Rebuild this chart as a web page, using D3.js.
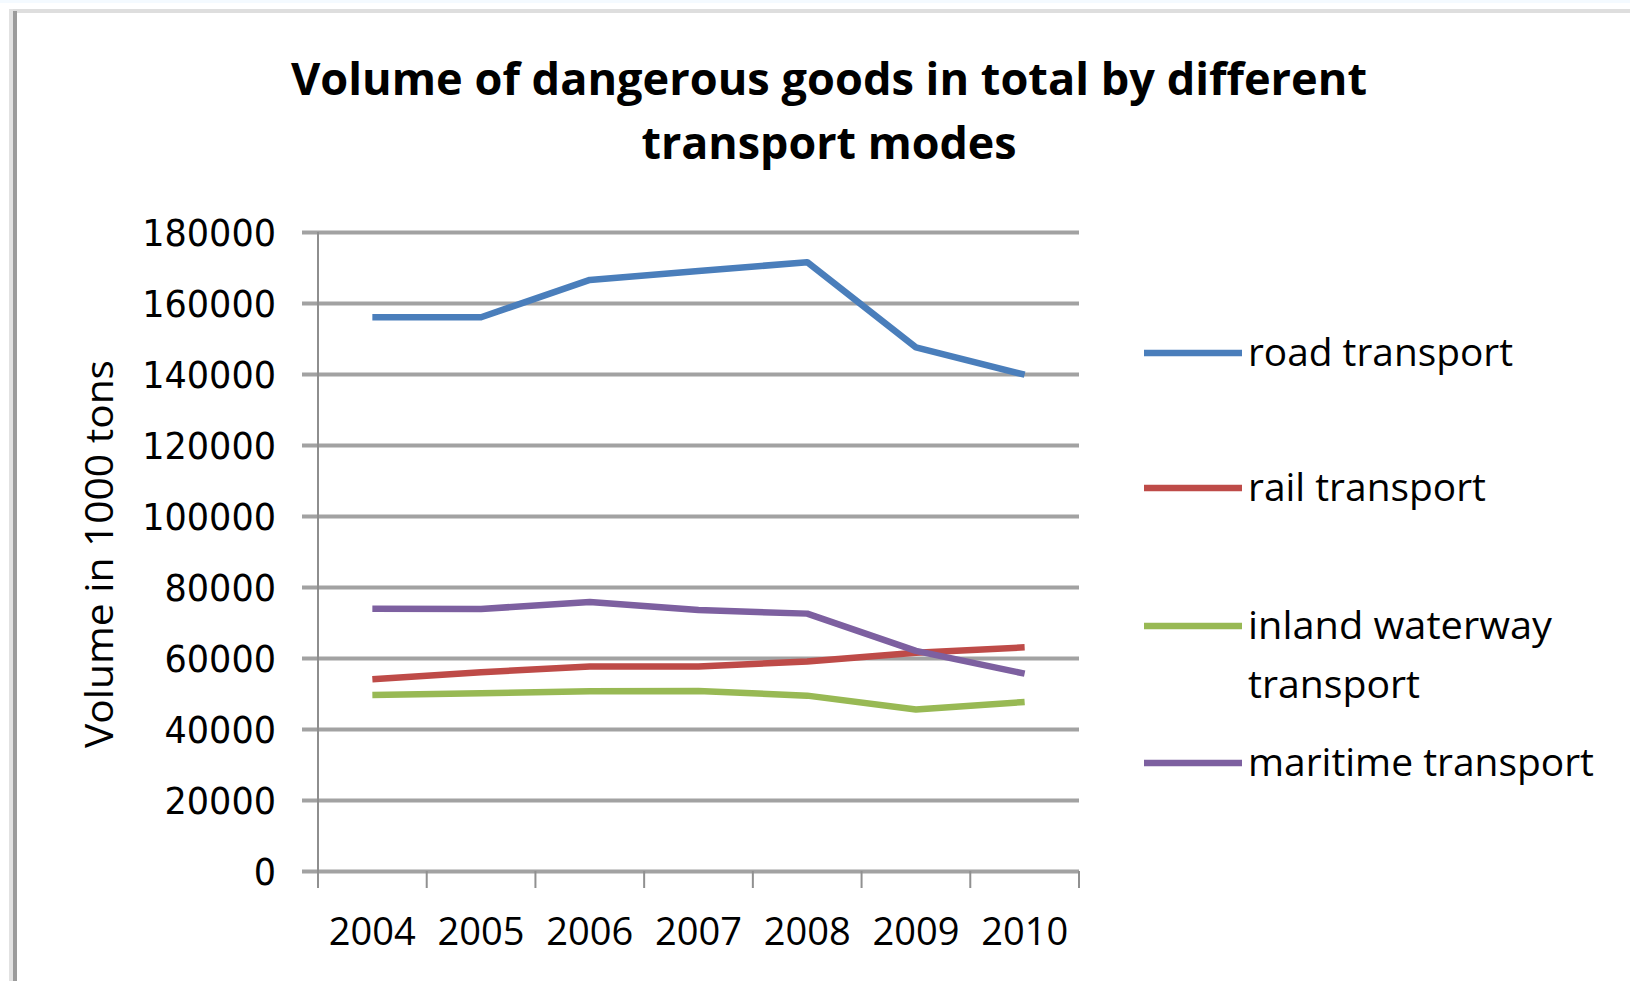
<!DOCTYPE html>
<html>
<head>
<meta charset="utf-8">
<script src="https://cdn.jsdelivr.net/npm/d3@7"></script>
<style>
  html, body { margin: 0; padding: 0; background: #ffffff; }
  svg { display: block; }
</style>
</head>
<body>
<svg id="chart" width="1630" height="981"></svg>
<script>
// Volume of dangerous goods (1000 tons) by transport mode
const years = ["2004", "2005", "2006", "2007", "2008", "2009", "2010"];
const roadTransport = [156000, 156000, 166500, 169000, 171500, 147500, 139800];
const railTransport = [54000, 56000, 57600, 57600, 59000, 61500, 63000];
const inlandWaterwayTransport = [49600, 50100, 50600, 50700, 49400, 45500, 47600];
const maritimeTransport = [73900, 73800, 75800, 73500, 72500, 62000, 55600];
const yTickValues = [0, 20000, 40000, 60000, 80000, 100000, 120000, 140000, 160000, 180000];
const seriesNames = ["road transport", "rail transport", "inland waterway transport", "maritime transport"];
const seriesColors = ["#4a7ebb", "#be4b48", "#98b954", "#7d60a0"];

const series = [roadTransport, railTransport, inlandWaterwayTransport, maritimeTransport]
  .map((values, i) => ({ name: seriesNames[i], color: seriesColors[i], values }));

const svg = d3.select("#chart");

// outer frame
svg.append("rect").attr("x", 0).attr("y", 0).attr("width", 1630).attr("height", 3).attr("fill", "#f4faff");
svg.append("rect").attr("x", 9).attr("y", 9).attr("width", 1621).attr("height", 4).attr("fill", "#dedede");
svg.append("rect").attr("x", 9).attr("y", 9).attr("width", 4).attr("height", 972).attr("fill", "#e2e2e2");
svg.append("rect").attr("x", 13).attr("y", 11).attr("width", 4).attr("height", 970).attr("fill", "#9b9b9b");

const plotLeft = 318, plotRight = 1079, plotTop = 232, plotBottom = 871;

const x = d3.scaleBand().domain(years).range([plotLeft, plotRight]).padding(0);
const y = d3.scaleLinear().domain([0, 180000]).range([plotBottom, plotTop]);

// title
const title = svg.append("g")
  .attr("font-family", "'Open Sans', sans-serif")
  .attr("font-weight", "bold")
  .attr("font-size", 45)
  .attr("fill", "#000")
  .attr("text-anchor", "middle");
title.append("text").attr("x", 829).attr("y", 95)
  .attr("textLength", 1076).attr("lengthAdjust", "spacingAndGlyphs")
  .text("Volume of dangerous goods in total by different");
title.append("text").attr("x", 829).attr("y", 159)
  .attr("textLength", 375).attr("lengthAdjust", "spacingAndGlyphs")
  .text("transport modes");

// horizontal gridlines with value labels
const yAxis = d3.axisLeft(y)
  .tickValues(yTickValues)
  .tickFormat(d3.format("d"))
  .tickSize(plotRight - 302)
  .tickPadding(26);

const yAxisG = svg.append("g")
  .attr("transform", `translate(${plotRight},0)`)
  .call(yAxis);
yAxisG.select(".domain").remove();
yAxisG.selectAll(".tick line").attr("stroke", "#a2a2a2").attr("stroke-width", 4);
yAxisG.selectAll(".tick text")
  .attr("font-family", "'DejaVu Sans', sans-serif")
  .attr("font-size", 37)
  .attr("fill", "#000")
  .attr("dy", "0.36em")
  .each(function () {
    const n = this.textContent.length;
    d3.select(this).attr("textLength", n * 22.3).attr("lengthAdjust", "spacingAndGlyphs");
  });

// vertical axis line
svg.append("line")
  .attr("x1", plotLeft).attr("x2", plotLeft)
  .attr("y1", plotTop).attr("y2", plotBottom + 17)
  .attr("stroke", "#8e8e8e").attr("stroke-width", 2);

// category axis: labels at band centres, tick marks at band edges
const xAxis = d3.axisBottom(x).tickSize(0).tickPadding(0);
const xAxisG = svg.append("g")
  .attr("transform", `translate(0,${plotBottom})`)
  .call(xAxis);
xAxisG.select(".domain").remove();
xAxisG.selectAll(".tick text")
  .attr("font-family", "'Open Sans', sans-serif")
  .attr("font-size", 38)
  .attr("fill", "#000")
  .attr("y", 74)
  .attr("dy", 0)
  .attr("textLength", 87)
  .attr("lengthAdjust", "spacingAndGlyphs");

const edges = years.map(d => x(d)).concat([x(years[years.length - 1]) + x.bandwidth()]);
svg.append("g").selectAll("line")
  .data(edges)
  .join("line")
  .attr("x1", d => d).attr("x2", d => d)
  .attr("y1", plotBottom).attr("y2", plotBottom + 17)
  .attr("stroke", "#909090").attr("stroke-width", 2);

// vertical axis title
svg.append("text")
  .attr("transform", "translate(113,554) rotate(-90)")
  .attr("text-anchor", "middle")
  .attr("font-family", "'Open Sans', sans-serif")
  .attr("font-size", 38)
  .attr("fill", "#000")
  .attr("textLength", 388)
  .attr("lengthAdjust", "spacingAndGlyphs")
  .text("Volume in 1000 tons");

// series lines
const line = d3.line()
  .x((d, i) => x(years[i]) + x.bandwidth() / 2)
  .y(d => y(d));

svg.append("g").selectAll("path")
  .data(series)
  .join("path")
  .attr("d", d => line(d.values))
  .attr("fill", "none")
  .attr("stroke", d => d.color)
  .attr("stroke-width", 6.5)
  .attr("stroke-linejoin", "round");

// legend
const legendRows = [
  { lines: ["road transport"], widths: [265] },
  { lines: ["rail transport"], widths: [238] },
  { lines: ["inland waterway", "transport"], widths: [304, 172] },
  { lines: ["maritime transport"], widths: [346] }
];
const legendY = [353, 488, 626, 763];

const legend = svg.append("g")
  .attr("font-family", "'Open Sans', sans-serif")
  .attr("font-size", 38)
  .attr("fill", "#000");

series.forEach((s, i) => {
  const g = legend.append("g").attr("transform", `translate(0,${legendY[i]})`);
  g.append("line")
    .attr("x1", 1144).attr("x2", 1242)
    .attr("y1", 0).attr("y2", 0)
    .attr("stroke", s.color).attr("stroke-width", 6.5);
  legendRows[i].lines.forEach((t, j) => {
    g.append("text")
      .attr("x", 1248)
      .attr("y", 13 + j * 59)
      .attr("textLength", legendRows[i].widths[j])
      .attr("lengthAdjust", "spacingAndGlyphs")
      .text(t);
  });
});
</script>
</body>
</html>
